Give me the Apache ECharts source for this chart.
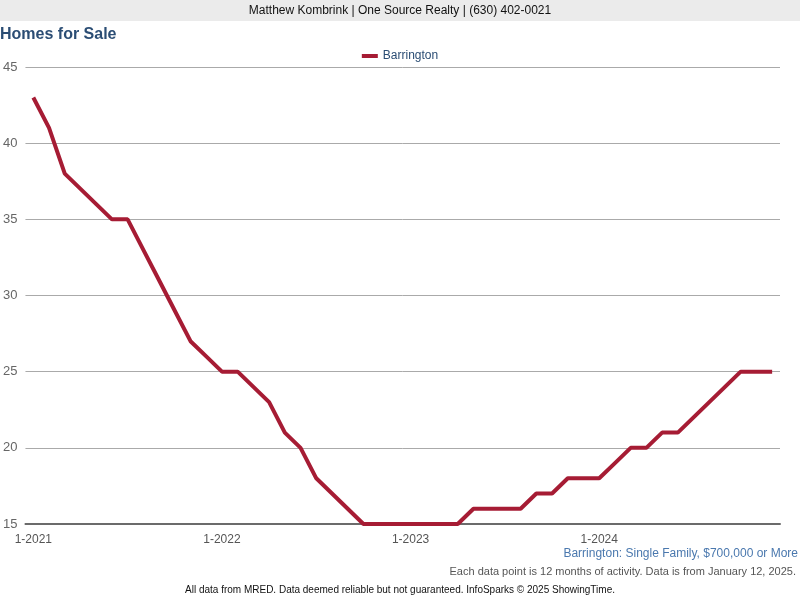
<!DOCTYPE html>
<html>
<head>
<meta charset="utf-8">
<script src="https://cdn.jsdelivr.net/npm/echarts@6/dist/echarts.min.js"></script>
<style>
html,body{margin:0;padding:0;background:#fff;}
#c{width:800px;height:600px;}
</style>
</head>
<body>
<div id="c"></div>
<script>
var months = [
  "1-2021","2-2021","3-2021","4-2021","5-2021","6-2021","7-2021","8-2021","9-2021","10-2021","11-2021","12-2021",
  "1-2022","2-2022","3-2022","4-2022","5-2022","6-2022","7-2022","8-2022","9-2022","10-2022","11-2022","12-2022",
  "1-2023","2-2023","3-2023","4-2023","5-2023","6-2023","7-2023","8-2023","9-2023","10-2023","11-2023","12-2023",
  "1-2024","2-2024","3-2024","4-2024","5-2024","6-2024","7-2024","8-2024","9-2024","10-2024","11-2024","12-2024"
];
var barrington = [
  43,41,38,37,36,35,35,33,31,29,27,26,
  25,25,24,23,21,20,18,17,16,15,15,15,
  15,15,15,15,16,16,16,16,17,17,18,18,
  18,19,20,20,21,21,22,23,24,25,25,25
];
var seriesName = "Barrington";
var yMin = 15, yMax = 45, yStep = 5;

var FONT = "Liberation Sans, Arial, sans-serif";
var chart = echarts.init(document.getElementById('c'), null, {renderer: 'canvas'});
chart.setOption({
  animation: false,
  backgroundColor: '#ffffff',
  textStyle: {fontFamily: FONT},
  graphic: [
    {type: 'rect', left: 0, top: 0, shape: {width: 800, height: 21}, style: {fill: '#ebebeb'}, z: -1},
    {type: 'text', left: 'center', top: 5, style: {text: 'Matthew Kombrink | One Source Realty | (630) 402-0021', font: '12px ' + FONT, fill: '#111'}},
    {type: 'text', left: 0, top: 27, style: {text: 'Homes for Sale', font: 'bold 16px ' + FONT, fill: '#2b4d74'}},
    {type: 'text', right: 2, top: 548, style: {text: 'Barrington: Single Family, $700,000 or More', font: '12px ' + FONT, fill: '#4a78ae'}},
    {type: 'text', right: 4, top: 566, style: {text: 'Each data point is 12 months of activity. Data is from January 12, 2025.', font: '11px ' + FONT, fill: '#555'}},
    {type: 'text', left: 'center', top: 585, style: {text: 'All data from MRED. Data deemed reliable but not guaranteed. InfoSparks \u00a9 2025 ShowingTime.', font: '10px ' + FONT, fill: '#111'}}
  ],
  legend: {
    data: [seriesName],
    top: 45,
    left: 'center',
    icon: 'rect',
    itemWidth: 16,
    itemHeight: 4,
    itemGap: 6,
    textStyle: {color: '#2b4d74', fontSize: 12, fontFamily: FONT}
  },
  grid: {left: 25, right: 20, top: 67, bottom: 76, containLabel: false},
  xAxis: {
    type: 'category',
    data: months,
    boundaryGap: true,
    axisLine: {lineStyle: {color: '#6b6b6b', width: 2}},
    axisTick: {alignWithLabel: true, length: 5, lineStyle: {color: '#6b6b6b', width: 2},
      interval: function (i) { return i % 12 === 0; }},
    axisLabel: {color: '#555', fontSize: 12, margin: 10, fontFamily: FONT,
      interval: function (i) { return i % 12 === 0; }},
    splitLine: {show: false}
  },
  yAxis: {
    type: 'value',
    min: yMin, max: yMax, interval: yStep,
    axisLine: {show: false},
    axisTick: {show: false},
    axisLabel: {color: '#666', fontSize: 13, margin: 8, fontFamily: FONT},
    splitLine: {lineStyle: {color: '#aaaaaa', width: 1}}
  },
  series: [{
    name: seriesName,
    type: 'line',
    data: barrington,
    symbol: 'none',
    lineStyle: {color: '#a61c34', width: 4},
    itemStyle: {color: '#a61c34'}
  }]
});
</script>
</body>
</html>
